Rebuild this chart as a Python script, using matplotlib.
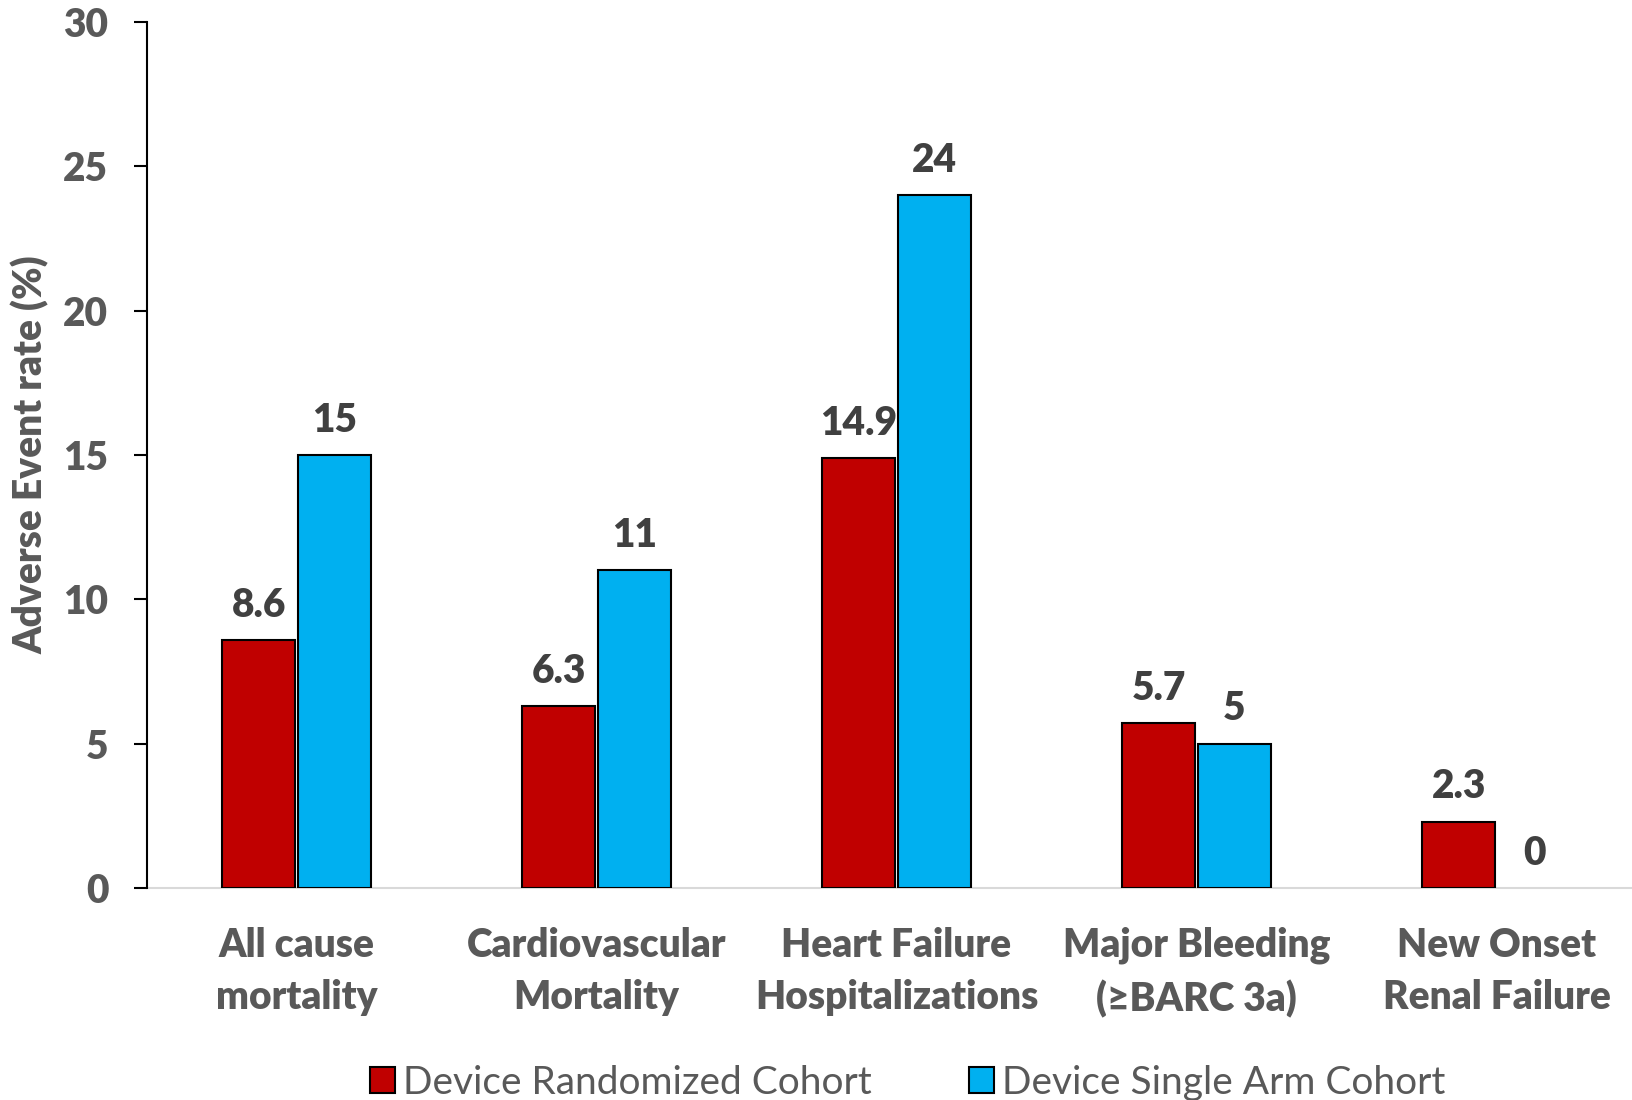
import matplotlib
matplotlib.use("Agg")
import matplotlib.pyplot as plt
import numpy as np

categories = [
    "All cause\nmortality",
    "Cardiovascular\nMortality",
    "Heart Failure\nHospitalizations",
    "Major Bleeding\n(≥BARC 3a)",
    "New Onset\nRenal Failure",
]
randomized = [8.6, 6.3, 14.9, 5.7, 2.3]
single_arm = [15, 11, 24, 5, 0]
randomized_labels = ["8.6", "6.3", "14.9", "5.7", "2.3"]
single_arm_labels = ["15", "11", "24", "5", "0"]
series_names = ["Device Randomized Cohort", "Device Single Arm Cohort"]
y_ticks = [0, 5, 10, 15, 20, 25, 30]

RED = "#C00000"
BLUE = "#00B0F0"
TICK_GRAY = "#595959"
LABEL_GRAY = "#404040"
FS = 28
WEIGHT = "heavy"

plt.rcParams["font.family"] = ["Lato", "DejaVu Sans"]

fig = plt.figure(figsize=(16.32, 11.0), dpi=100)
ax = fig.add_axes([146.5 / 1632, 1 - 888 / 1100, 1500 / 1632, (888 - 22) / 1100])

x = np.arange(len(categories))
w = 0.243
gap = 0.004
bars_r = ax.bar(x - w / 2 - gap, randomized, w, color=RED, edgecolor="black",
                linewidth=1.5, label=series_names[0], zorder=3)
bars_b = ax.bar(x + w / 2 + gap, single_arm, w, color=BLUE, edgecolor="black",
                linewidth=1.5, label=series_names[1], zorder=3)
for b in bars_b:
    if b.get_height() == 0:
        b.set_visible(False)

for bars, labels in ((bars_r, randomized_labels), (bars_b, single_arm_labels)):
    for b, lab in zip(bars, labels):
        ax.annotate(lab, (b.get_x() + b.get_width() / 2, b.get_height()),
                    xytext=(0, 25), textcoords="offset points",
                    ha="center", va="center", fontsize=FS, fontweight=WEIGHT,
                    color=LABEL_GRAY)

ax.set_xlim(-0.5, len(categories) - 0.5)
ax.set_ylim(0, 30)
ax.set_yticks(y_ticks)
ax.set_yticklabels([str(t) for t in y_ticks], fontsize=FS, fontweight=WEIGHT,
                   color=TICK_GRAY)
ax.set_xticks(x)
ax.set_xticklabels(categories, fontsize=FS, fontweight=WEIGHT, color=TICK_GRAY,
                   linespacing=1.5)
ax.tick_params(axis="x", length=0, pad=28)
ax.tick_params(axis="y", length=9.5, width=1.5, pad=18, direction="out")

for s in ("top", "right"):
    ax.spines[s].set_visible(False)
ax.spines["left"].set_linewidth(1.5)
ax.spines["left"].set_color("black")
ax.spines["bottom"].set_color("#D9D9D9")
ax.spines["bottom"].set_linewidth(1.5)
ax.spines["bottom"].set_zorder(2)

fig.text(31 / 1632, 1 - 455 / 1100, "Adverse Event rate (%)", rotation=90,
         ha="center", va="center", fontsize=FS, fontweight=WEIGHT,
         color=TICK_GRAY)

leg = fig.legend(handles=[bars_r, bars_b], labels=series_names,
                 loc="center", bbox_to_anchor=(0.556, 1 - 1083 / 1100),
                 ncol=2, frameon=False, fontsize=FS, handlelength=0.65,
                 handleheight=0.65, handletextpad=0.2, columnspacing=2.5)
for t in leg.get_texts():
    t.set_color(TICK_GRAY)

fig.savefig("out.png", dpi=100)
